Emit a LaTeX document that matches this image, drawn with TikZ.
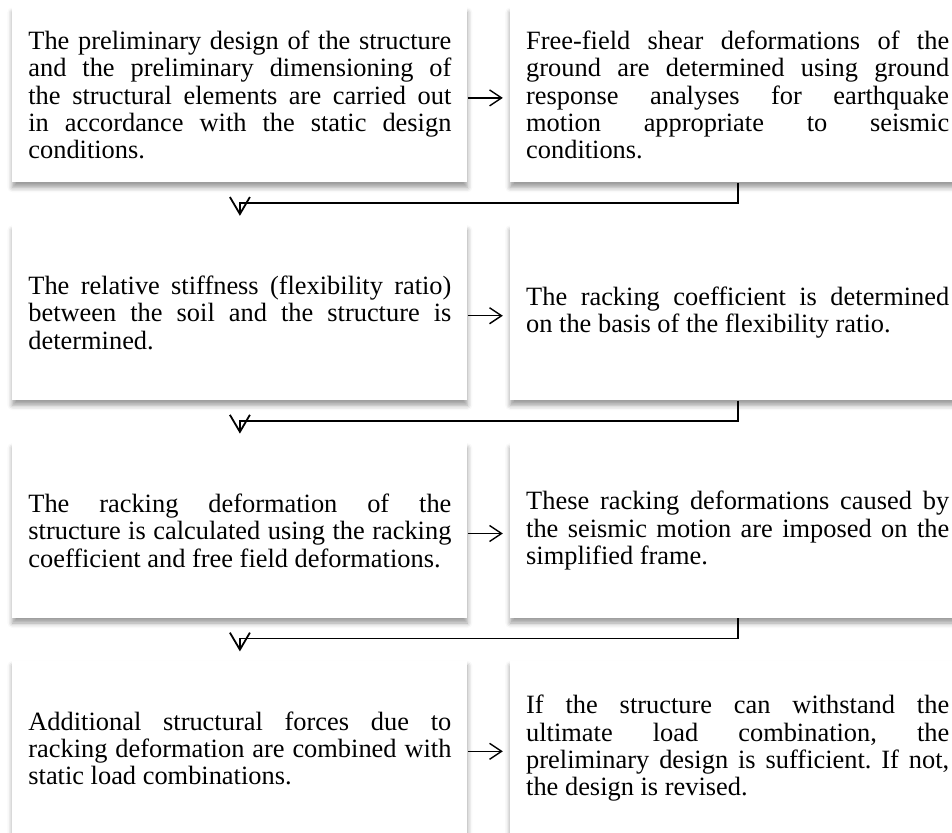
\documentclass[tikz,border=0pt]{standalone}
\usepackage{fontspec}
\setmainfont{Liberation Serif}
\usetikzlibrary{positioning,arrows.meta,shadows.blur}
\tolerance=9999
\hyphenpenalty=10000
\exhyphenpenalty=10000
\frenchspacing

\tikzset{
  stepbox/.style={fill=white, anchor=north west, text width=211.5pt, inner xsep=8pt, inner ysep=0pt,
    minimum height=87.5pt, align=justify, font=\fontsize{13.2}{13.7}\selectfont,
    blur shadow={shadow xshift=0pt, shadow yshift=-2.5pt, shadow blur radius=2.5pt, shadow opacity=40}},
  nextarrow/.style={line width=0.7pt, -{Straight Barb[length=6pt,width=8pt]}, shorten >=3.5pt},
  downarrow/.style={line width=0.9pt, -{Straight Barb[length=8.5pt,width=10pt]}},
}

\begin{document}
\begin{tikzpicture}
        \useasboundingbox (0,0) rectangle (476pt,-416pt);
        \clip (0,0) rectangle (476pt,-416pt);

        \node[stepbox] (a1) at (6pt,-3.5pt) {The preliminary design of the structure\linebreak and the preliminary dimensioning of\linebreak the structural elements are carried out\linebreak in accordance with the static design\linebreak conditions.};
        \node[stepbox, right=21pt of a1] (b1) {Free-field shear deformations of the\linebreak ground are determined using ground\linebreak response analyses for earthquake\linebreak motion appropriate to seismic\linebreak conditions.};
        \node[stepbox, below=21pt of a1] (a2) {The relative stiffness (flexibility ratio)\linebreak between the soil and the structure is\linebreak determined.};
        \node[stepbox, right=21pt of a2] (b2) {The racking coefficient is determined\linebreak on the basis of the flexibility ratio.};
        \node[stepbox, below=21pt of a2] (a3) {The racking deformation of the\linebreak structure is calculated using the racking\linebreak coefficient and free field deformations.};
        \node[stepbox, right=21pt of a3] (b3) {These racking deformations caused by\linebreak the seismic motion are imposed on the\linebreak simplified frame.};
        \node[stepbox, below=21pt of a3] (a4) {Additional structural forces due to\linebreak racking deformation are combined with\linebreak static load combinations.};
        \node[stepbox, right=21pt of a4] (b4) {If the structure can withstand the\linebreak ultimate load combination, the\linebreak preliminary design is sufficient. If not,\linebreak the design is revised.};

        % left to right
        \draw[nextarrow] ([yshift=-1.5pt]a1.east) -- ([yshift=-1.5pt]b1.west);
        \draw[nextarrow] ([yshift=-1.5pt]a2.east) -- ([yshift=-1.5pt]b2.west);
        \draw[nextarrow] ([yshift=-1.5pt]a3.east) -- ([yshift=-1.5pt]b3.west);
        \draw[nextarrow] ([yshift=-1.5pt]a4.east) -- ([yshift=-1.5pt]b4.west);

        % back to the next row
        \draw[downarrow] (b1.south) -- ++(0,-10pt) -| ([yshift=4.5pt]a2.north);
        \draw[downarrow] (b2.south) -- ++(0,-10pt) -| ([yshift=4.5pt]a3.north);
        \draw[downarrow] (b3.south) -- ++(0,-10pt) -| ([yshift=4.5pt]a4.north);
\end{tikzpicture}
\end{document}
